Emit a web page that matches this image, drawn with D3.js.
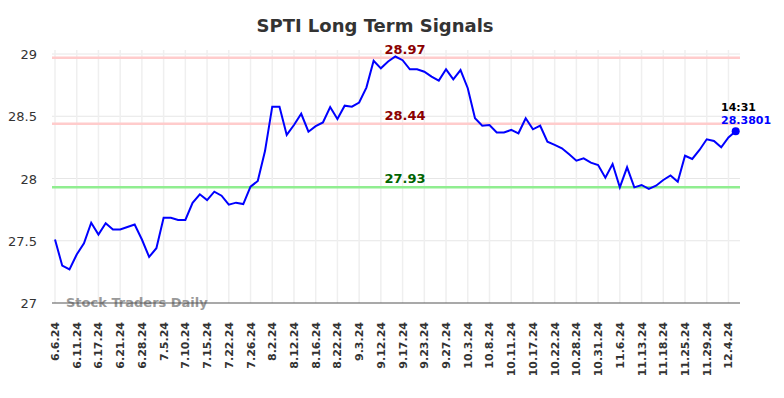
<!DOCTYPE html>
<html>
<head>
<meta charset="utf-8">
<script src="https://cdn.jsdelivr.net/npm/d3@7"></script>
<style>
  html, body { margin: 0; padding: 0; background: #fff; }
  svg { display: block; font-family: "DejaVu Sans", sans-serif; }
</style>
</head>
<body>
<svg id="chart" width="784" height="398"></svg>
<script>
// ---- data ----
const title = "SPTI Long Term Signals";
const tickLabels = ["6.6.24","6.11.24","6.17.24","6.21.24","6.28.24","7.5.24","7.10.24","7.15.24","7.22.24","7.26.24","8.2.24","8.12.24","8.16.24","8.22.24","9.3.24","9.12.24","9.17.24","9.23.24","9.27.24","10.3.24","10.8.24","10.11.24","10.17.24","10.22.24","10.28.24","10.31.24","11.6.24","11.13.24","11.18.24","11.25.24","11.29.24","12.4.24"];
const tickEvery = 3;
const prices = [27.51,27.30,27.27,27.39,27.48,27.645,27.55,27.64,27.59,27.59,
  27.61,27.63,27.51,27.37,27.44,27.685,27.685,27.667,27.667,27.805,
  27.873,27.827,27.894,27.862,27.79,27.806,27.795,27.934,27.98,28.22,
  28.577,28.577,28.35,28.43,28.52,28.376,28.42,28.45,28.574,28.478,
  28.585,28.577,28.61,28.73,28.946,28.885,28.94,28.98,28.95,28.877,
  28.877,28.858,28.818,28.786,28.877,28.797,28.871,28.725,28.484,28.424,
  28.43,28.37,28.37,28.39,28.363,28.484,28.395,28.424,28.296,28.27,
  28.243,28.194,28.143,28.162,28.127,28.108,28.006,28.116,27.929,28.09,
  27.929,27.948,27.916,27.942,27.988,28.025,27.974,28.183,28.157,28.229,
  28.315,28.301,28.25,28.33,28.3801];
const yTicks = [27, 27.5, 28, 28.5, 29];
const levels = [
  {value: 28.97, kind: "res"},
  {value: 28.44, kind: "res"},
  {value: 27.93, kind: "sup"}
];
const lastTime = "14:31";
const lastValue = "28.3801";
const watermark = "Stock Traders Daily";

// ---- drawing ----
const svg = d3.select("#chart");
const left = 52, right = 740;
const x = d3.scaleLinear().domain([0, prices.length - 1]).range([55, 735.7]);
const y = d3.scaleLinear().domain([27, 29]).range([303, 54]);

// title
svg.append("text").attr("x", 375).attr("y", 32).attr("text-anchor", "middle")
  .attr("font-size", 18).attr("font-weight", "bold").attr("fill", "#333").text(title);

// horizontal grid
svg.append("g").selectAll("line").data(yTicks.filter(d => d !== 27)).join("line")
  .attr("x1", left).attr("x2", right).attr("y1", d => y(d)).attr("y2", d => y(d))
  .attr("stroke", "#e6e6e6").attr("stroke-width", 1);

// vertical grid
const tickIdx = tickLabels.map((_, i) => i * tickEvery);
svg.append("g").selectAll("line").data(tickIdx).join("line")
  .attr("x1", d => x(d)).attr("x2", d => x(d)).attr("y1", 50).attr("y2", 303)
  .attr("stroke", "#efefef").attr("stroke-width", 1.5);

// y axis labels
svg.append("g").selectAll("text").data(yTicks).join("text")
  .attr("x", 37).attr("y", d => y(d) + 5).attr("text-anchor", "end")
  .attr("font-size", 13).attr("fill", "#333").text(d => d);

// levels
svg.append("g").selectAll("line").data(levels).join("line")
  .attr("x1", left).attr("x2", right).attr("y1", d => y(d.value)).attr("y2", d => y(d.value))
  .attr("stroke", d => d.kind === "res" ? "#ffcccc" : "#90ee90").attr("stroke-width", 2.5);
svg.append("g").selectAll("text").data(levels).join("text")
  .attr("x", 405).attr("y", d => y(d.value) - 4).attr("text-anchor", "middle")
  .attr("font-size", 13).attr("font-weight", "bold")
  .attr("fill", d => d.kind === "res" ? "#8b0000" : "#006400")
  .text(d => d.value.toFixed(2));

// watermark
svg.append("text").attr("x", 66).attr("y", 307).attr("font-size", 13).attr("font-weight", "bold")
  .attr("fill", "#999").text(watermark);

// bottom axis line
svg.append("line").attr("x1", left).attr("x2", right).attr("y1", 303).attr("y2", 303)
  .attr("stroke", "#555").attr("stroke-width", 1.2);

// x tick labels
svg.append("g").selectAll("text").data(tickLabels).join("text")
  .attr("transform", (d, i) => `translate(${x(i * tickEvery) + 4},322) rotate(-90)`)
  .attr("text-anchor", "end").attr("font-size", 11).attr("font-weight", "bold")
  .attr("fill", "#333").text(d => d);

// price line
svg.append("path").datum(prices)
  .attr("d", d3.line().x((d, i) => x(i)).y(d => y(d)))
  .attr("fill", "none").attr("stroke", "#0000ff").attr("stroke-width", 2);

// last point
const li = prices.length - 1;
svg.append("circle").attr("cx", x(li)).attr("cy", y(prices[li])).attr("r", 4).attr("fill", "#0000ff");
svg.append("text").attr("x", 721).attr("y", 111).attr("font-size", 11).attr("font-weight", "bold")
  .attr("fill", "#000").text(lastTime);
svg.append("text").attr("x", 721).attr("y", 124).attr("font-size", 11).attr("font-weight", "bold")
  .attr("fill", "#0000ff").text(lastValue);
</script>
</body>
</html>
